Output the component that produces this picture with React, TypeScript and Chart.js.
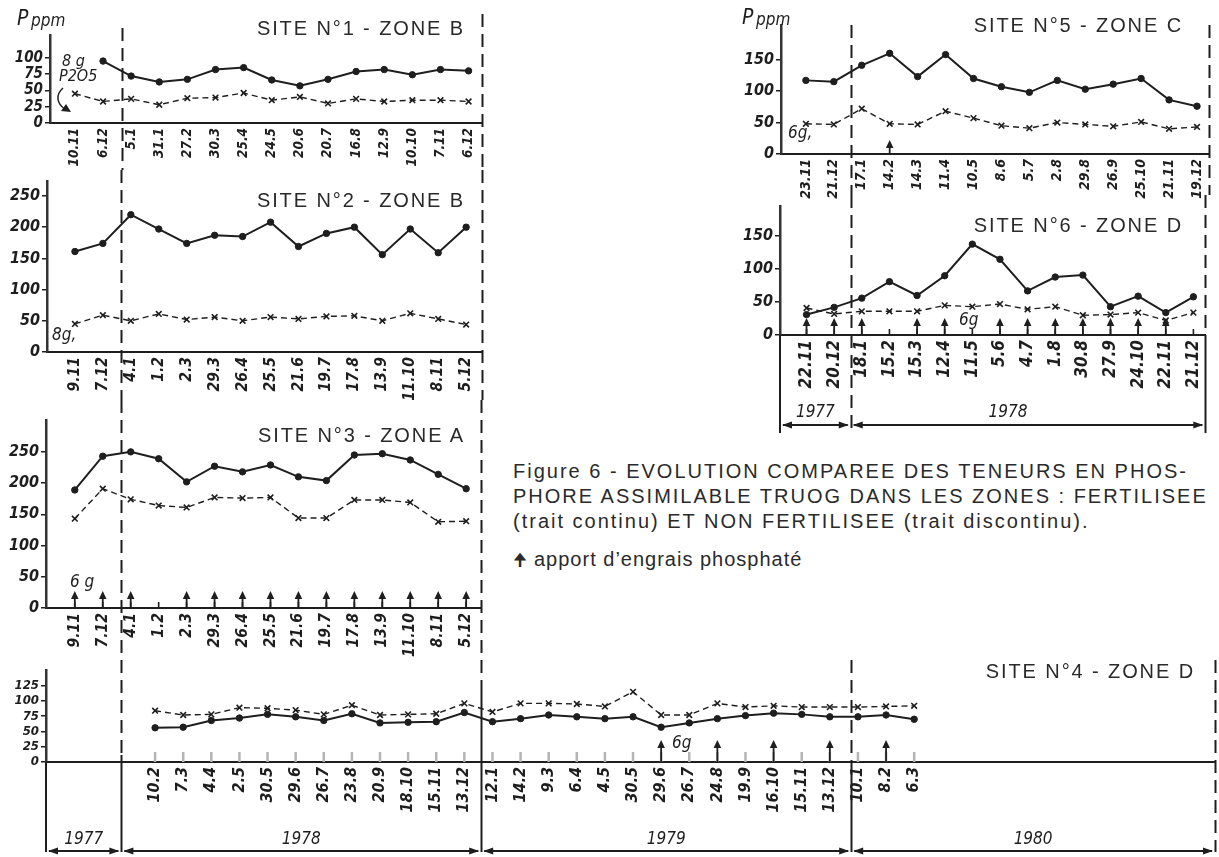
import React, { useEffect, useRef } from "react";
import { Chart, registerables } from "chart.js";

Chart.register(...registerables);

const INK = "#1e1e1e";
const TICK_FAMILY = '"DejaVu Sans Condensed", "DejaVu Sans", sans-serif';
const TEXT_FAMILY = '"Liberation Sans Narrow", "Liberation Sans", Arial, sans-serif';

// ---------------- DATA ----------------
// Site 1 - Zone B
const site1Labels = ["10.11", "6.12", "5.1", "31.1", "27.2", "30.3", "25.4", "24.5", "20.6", "20.7", "16.8", "12.9", "10.10", "7.11", "6.12"];
const site1Fert = [null, 95, 72, 63, 67, 82, 85, 66, 57, 67, 79, 82, 74, 82, 80];
const site1NonFert = [45, 33, 37, 28, 38, 39, 46, 35, 40, 30, 37, 33, 35, 35, 33];
const site1YTicks = [0, 25, 50, 75, 100];

// Site 2 - Zone B
const site2Labels = ["9.11", "7.12", "4.1", "1.2", "2.3", "29.3", "26.4", "25.5", "21.6", "19.7", "17.8", "13.9", "11.10", "8.11", "5.12"];
const site2Fert = [161, 174, 220, 197, 174, 187, 185, 208, 169, 190, 200, 156, 197, 159, 200];
const site2NonFert = [45, 59, 50, 61, 52, 56, 50, 56, 53, 57, 58, 50, 62, 53, 44];
const site2YTicks = [0, 50, 100, 150, 200, 250];

// Site 3 - Zone A
const site3Labels = ["9.11", "7.12", "4.1", "1.2", "2.3", "29.3", "26.4", "25.5", "21.6", "19.7", "17.8", "13.9", "11.10", "8.11", "5.12"];
const site3Fert = [189, 243, 250, 239, 202, 227, 218, 229, 210, 204, 245, 247, 237, 214, 191];
const site3NonFert = [143, 191, 174, 164, 161, 177, 176, 177, 144, 144, 173, 173, 169, 138, 139];
const site3YTicks = [0, 50, 100, 150, 200, 250];
const site3Arrows = [0, 1, 2, 4, 5, 6, 7, 8, 9, 10, 11, 12, 13, 14];

// Site 4 - Zone D
const site4Labels = ["10.2", "7.3", "4.4", "2.5", "30.5", "29.6", "26.7", "23.8", "20.9", "18.10", "15.11", "13.12", "12.1", "14.2", "9.3", "6.4", "4.5", "30.5", "29.6", "26.7", "24.8", "19.9", "16.10", "15.11", "13.12", "10.1", "8.2", "6.3"];
const site4Fert = [56, 57, 68, 72, 78, 74, 68, 79, 64, 65, 66, 81, 66, 71, 77, 74, 71, 74, 57, 64, 71, 76, 80, 78, 74, 74, 77, 70];
const site4NonFert = [84, 77, 78, 89, 88, 85, 78, 93, 77, 78, 79, 96, 82, 96, 96, 95, 91, 115, 77, 77, 96, 90, 92, 90, 90, 90, 91, 92];
const site4YTicks = [0, 25, 50, 75, 100, 125];
const site4Arrows = [18, 20, 22, 24, 26];
const site4Years = ["1977", "1978", "1979", "1980"];

// Site 5 - Zone C
const site5Labels = ["23.11", "21.12", "17.1", "14.2", "14.3", "11.4", "10.5", "8.6", "5.7", "2.8", "29.8", "26.9", "25.10", "21.11", "19.12"];
const site5Fert = [117, 115, 141, 160, 123, 158, 120, 107, 98, 117, 103, 111, 120, 86, 76];
const site5NonFert = [48, 47, 72, 48, 47, 68, 57, 45, 41, 50, 47, 44, 51, 40, 43];
const site5YTicks = [0, 50, 100, 150];
const site5Arrows = [3];

// Site 6 - Zone D
const site6Labels = ["22.11", "20.12", "18.1", "15.2", "15.3", "12.4", "11.5", "5.6", "4.7", "1.8", "30.8", "27.9", "24.10", "22.11", "21.12"];
const site6Fert = [31, 42, 56, 81, 60, 90, 138, 115, 67, 88, 91, 43, 59, 34, 58];
const site6NonFert = [41, 32, 36, 36, 36, 45, 43, 47, 39, 43, 30, 31, 34, 22, 34];
const site6YTicks = [0, 50, 100, 150];
const site6Arrows = [0, 1, 2, 4, 5, 7, 8, 9, 10, 11, 12, 13];
const site6Years = ["1977", "1978"];

// ---------------- TYPES ----------------
type Divider = { v: number; from: number; to: number; solidFrom?: number };
type Note = { text: string; x: number; y: number; size: number };
type Bracket = { y: number; labelY: number; bounds: number[]; years: string[]; shift?: number[] };

type PanelCfg = {
  left: number; top: number; width: number; height: number;
  axisW: number; padTop: number; padRight: number; xLabelH: number;
  xMin: number; xMax: number; yMax: number;
  labels: string[]; fert: (number | null)[]; nonFert: number[]; yTicks: number[];
  yFont: number; xFont: number;
  dividers: Divider[];
  arrows: number[]; arrowLen: number;
  baseTicks: boolean; faintTicks?: boolean;
  notes: Note[];
  bracket?: Bracket;
  axisExt?: number;
  curl?: boolean;
};

function line(ctx: CanvasRenderingContext2D, x1: number, y1: number, x2: number, y2: number) {
  ctx.beginPath();
  ctx.moveTo(x1, y1);
  ctx.lineTo(x2, y2);
  ctx.stroke();
}

function arrowHead(ctx: CanvasRenderingContext2D, x: number, y: number, dir: "up" | "left" | "right") {
  ctx.beginPath();
  if (dir === "up") {
    ctx.moveTo(x, y);
    ctx.lineTo(x - 3.8, y + 8);
    ctx.lineTo(x + 3.8, y + 8);
  } else if (dir === "left") {
    ctx.moveTo(x, y);
    ctx.lineTo(x + 10, y - 3.5);
    ctx.lineTo(x + 10, y + 3.5);
  } else {
    ctx.moveTo(x, y);
    ctx.lineTo(x - 10, y - 3.5);
    ctx.lineTo(x - 10, y + 3.5);
  }
  ctx.closePath();
  ctx.fill();
}

function makeDecor(cfg: PanelCfg) {
  return {
    id: "decor",
    afterDraw(chart: any) {
      const ctx: CanvasRenderingContext2D = chart.ctx;
      const xs = chart.scales.x;
      const ys = chart.scales.y;
      const base = ys.getPixelForValue(0);
      ctx.save();
      ctx.fillStyle = INK;
      ctx.strokeStyle = INK;

      // small ticks on the baseline at each sampling date
      if (cfg.baseTicks) {
        ctx.lineWidth = cfg.faintTicks ? 2.5 : 1.6;
        ctx.strokeStyle = cfg.faintTicks ? "#b4b4b4" : INK;
        cfg.labels.forEach((_, i) => {
          const x = xs.getPixelForValue(i);
          line(ctx, x, base, x, base - (cfg.faintTicks ? 10 : 6));
        });
        ctx.strokeStyle = INK;
      }

      // fertiliser arrows
      ctx.lineWidth = 1.8;
      cfg.arrows.forEach((i) => {
        const x = xs.getPixelForValue(i);
        line(ctx, x, base, x, base - cfg.arrowLen + 5);
        arrowHead(ctx, x, base - cfg.arrowLen, "up");
      });

      // vertical separators (year limits / panel limits)
      ctx.lineWidth = 2;
      cfg.dividers.forEach((d) => {
        const x = Math.round(xs.getPixelForValue(d.v)) + 0.5;
        const dashEnd = d.solidFrom ?? d.to;
        ctx.setLineDash([13, 7]);
        line(ctx, x, d.from, x, dashEnd);
        if (d.solidFrom !== undefined) {
          ctx.setLineDash([]);
          line(ctx, x, d.solidFrom, x, d.to);
        }
      });
      ctx.setLineDash([]);

      if (cfg.axisExt !== undefined) {
        const x = chart.chartArea.left;
        line(ctx, x, base, x, cfg.axisExt);
      }

      // year brackets
      if (cfg.bracket) {
        const b = cfg.bracket;
        ctx.lineWidth = 2;
        ctx.font = `italic 17px ${TICK_FAMILY}`;
        ctx.textAlign = "center";
        ctx.textBaseline = "alphabetic";
        for (let k = 0; k < b.years.length; k++) {
          const x1 = xs.getPixelForValue(b.bounds[k]);
          const x2 = xs.getPixelForValue(b.bounds[k + 1]);
          line(ctx, x1 + 3, b.y, x2 - 3, b.y);
          arrowHead(ctx, x1 + 2, b.y, "left");
          arrowHead(ctx, x2 - 2, b.y, "right");
          const sh = b.shift ? b.shift[k] : 0;
          ctx.fillText(b.years[k], (x1 + x2) / 2 + sh, b.labelY);
        }
      }

      // curled arrow (site 1)
      if (cfg.curl) {
        ctx.lineWidth = 1.5;
        ctx.beginPath();
        ctx.moveTo(63, 88);
        ctx.bezierCurveTo(55, 95, 57, 104, 65, 109);
        ctx.stroke();
        ctx.beginPath();
        ctx.moveTo(71, 112);
        ctx.lineTo(61, 111);
        ctx.lineTo(66, 104);
        ctx.closePath();
        ctx.fill();
      }

      // handwritten notes
      ctx.textAlign = "left";
      ctx.textBaseline = "alphabetic";
      cfg.notes.forEach((n) => {
        ctx.font = `italic ${n.size}px ${TICK_FAMILY}`;
        ctx.fillText(n.text, n.x, n.y);
      });
      ctx.restore();
    },
  };
}

function Panel({ cfg }: { cfg: PanelCfg }) {
  const ref = useRef<HTMLCanvasElement>(null);
  useEffect(() => {
    const canvas = ref.current;
    if (!canvas) return;
    const chart = new Chart(canvas, {
      type: "line",
      data: {
        datasets: [
          {
            label: "zone fertilisée",
            data: cfg.fert.map((v, i) => ({ x: i, y: v })) as any,
            borderColor: INK,
            backgroundColor: INK,
            borderWidth: 2,
            pointRadius: 3.2,
            pointStyle: "circle",
            pointBackgroundColor: INK,
            pointBorderColor: INK,
            pointBorderWidth: 1,
            tension: 0,
          },
          {
            label: "zone non fertilisée",
            data: cfg.nonFert.map((v, i) => ({ x: i, y: v })) as any,
            borderColor: INK,
            backgroundColor: INK,
            borderWidth: 1.4,
            borderDash: [6, 4],
            pointStyle: "crossRot",
            pointRadius: 4,
            pointBorderWidth: 1.6,
            pointBorderColor: INK,
            tension: 0,
          },
        ],
      },
      options: {
        responsive: false,
        maintainAspectRatio: false,
        animation: false,
        devicePixelRatio: 1,
        events: [],
        layout: {
          autoPadding: false,
          padding: { top: cfg.padTop, right: cfg.padRight, left: 0, bottom: 0 },
        },
        plugins: { legend: { display: false }, tooltip: { enabled: false } },
        scales: {
          x: {
            type: "linear",
            min: cfg.xMin,
            max: cfg.xMax,
            afterBuildTicks: (s: any) => {
              s.ticks = cfg.labels.map((_, i) => ({ value: i }));
            },
            afterFit: (s: any) => {
              s.height = cfg.xLabelH;
            },
            ticks: {
              autoSkip: false,
              minRotation: 90,
              maxRotation: 90,
              padding: 5,
              color: INK,
              font: { family: TICK_FAMILY, size: cfg.xFont, style: "italic", weight: "bold" },
              callback: (v: any) => cfg.labels[v as number] ?? "",
            },
            grid: { display: false, drawTicks: false },
            border: { display: true, color: INK, width: 2 },
          },
          y: {
            type: "linear",
            min: 0,
            max: cfg.yMax,
            afterBuildTicks: (s: any) => {
              s.ticks = cfg.yTicks.map((v) => ({ value: v }));
            },
            afterFit: (s: any) => {
              s.width = cfg.axisW;
            },
            ticks: {
              autoSkip: false,
              padding: 2,
              color: INK,
              font: { family: TICK_FAMILY, size: cfg.yFont, style: "italic", weight: "bold" },
            },
            grid: { display: true, drawOnChartArea: false, drawTicks: true, tickLength: 5, color: INK, lineWidth: 1.5 },
            border: { display: true, color: "#333", width: 2.5 },
          },
        },
      },
      plugins: [makeDecor(cfg)],
    });
    return () => chart.destroy();
  }, [cfg]);
  return (
    <canvas
      ref={ref}
      width={cfg.width}
      height={cfg.height}
      style={{ position: "absolute", left: cfg.left, top: cfg.top, width: cfg.width, height: cfg.height }}
    />
  );
}

// ---------------- PANELS ----------------
const panel1: PanelCfg = {
  left: 0, top: 0, width: 490, height: 170,
  axisW: 50, padTop: 35, padRight: 7, xLabelH: 47,
  xMin: -0.886, xMax: 14.46, yMax: 135,
  labels: site1Labels, fert: site1Fert, nonFert: site1NonFert, yTicks: site1YTicks,
  yFont: 15, xFont: 13.5,
  dividers: [
    { v: 1.67, from: 28, to: 170 },
    { v: 14.46, from: 14, to: 170 },
  ],
  arrows: [], arrowLen: 16, baseTicks: false,
  notes: [
    { text: "P", x: 17, y: 25, size: 21 },
    { text: "ppm", x: 31, y: 26, size: 17 },
    { text: "8 g", x: 62, y: 66, size: 16 },
    { text: "P2O5", x: 59, y: 81, size: 16 },
  ],
  curl: true,
};

const panel2: PanelCfg = {
  left: 0, top: 170, width: 490, height: 230,
  axisW: 47, padTop: 5, padRight: 7, xLabelH: 48,
  xMin: -1, xMax: 14.57, yMax: 273,
  labels: site2Labels, fert: site2Fert, nonFert: site2NonFert, yTicks: site2YTicks,
  yFont: 16, xFont: 15.5,
  dividers: [
    { v: 1.64, from: 0, to: 230 },
    { v: 14.57, from: 0, to: 230 },
  ],
  arrows: [], arrowLen: 16, baseTicks: false,
  notes: [{ text: "8g,", x: 52, y: 170, size: 17 }],
};

const panel3: PanelCfg = {
  left: 0, top: 400, width: 490, height: 260,
  axisW: 46, padTop: 20, padRight: 7, xLabelH: 52,
  xMin: -1.03, xMax: 14.53, yMax: 301,
  labels: site3Labels, fert: site3Fert, nonFert: site3NonFert, yTicks: site3YTicks,
  yFont: 16, xFont: 15.5,
  dividers: [
    { v: 1.64, from: 0, to: 260 },
    { v: 14.53, from: 0, to: 260 },
  ],
  arrows: site3Arrows, arrowLen: 17, baseTicks: true,
  notes: [{ text: "6 g", x: 70, y: 187, size: 17 }],
};

const panel4: PanelCfg = {
  left: 0, top: 660, width: 1219, height: 197,
  axisW: 46, padTop: 3, padRight: 4, xLabelH: 95,
  xMin: -3.88, xMax: 37.7, yMax: 151,
  labels: site4Labels, fert: site4Fert, nonFert: site4NonFert, yTicks: site4YTicks,
  yFont: 13, xFont: 16,
  dividers: [
    { v: -1.2, from: 0, to: 192, solidFrom: 95 },
    { v: 11.6, from: 0, to: 192, solidFrom: 20 },
    { v: 24.76, from: 0, to: 192, solidFrom: 100 },
    { v: 37.7, from: 0, to: 192 },
  ],
  arrows: site4Arrows, arrowLen: 22, baseTicks: true, faintTicks: true,
  notes: [{ text: "6g", x: 672, y: 88, size: 17 }],
  bracket: { y: 191, labelY: 184, bounds: [-3.88, -1.2, 11.6, 24.76, 37.7], years: site4Years },
  axisExt: 192,
};

const panel5: PanelCfg = {
  left: 730, top: 0, width: 489, height: 205,
  axisW: 51, padTop: 25, padRight: 7, xLabelH: 51,
  xMin: -0.89, xMax: 14.43, yMax: 205,
  labels: site5Labels, fert: site5Fert, nonFert: site5NonFert, yTicks: site5YTicks,
  yFont: 16, xFont: 14,
  dividers: [
    { v: 1.63, from: 25, to: 195 },
    { v: 14.43, from: 25, to: 195 },
  ],
  arrows: site5Arrows, arrowLen: 14, baseTicks: false,
  notes: [
    { text: "P", x: 12, y: 24, size: 21 },
    { text: "ppm", x: 26, y: 25, size: 17 },
    { text: "6g,", x: 58, y: 138, size: 17 },
  ],
};

const panel6: PanelCfg = {
  left: 730, top: 195, width: 489, height: 245,
  axisW: 50, padTop: 10, padRight: 7, xLabelH: 105,
  xMin: -0.96, xMax: 14.43, yMax: 195,
  labels: site6Labels, fert: site6Fert, nonFert: site6NonFert, yTicks: site6YTicks,
  yFont: 16, xFont: 17,
  dividers: [
    { v: 1.6, from: 0, to: 238 },
    { v: 14.43, from: 0, to: 238, solidFrom: 140 },
  ],
  arrows: site6Arrows, arrowLen: 17, baseTicks: true,
  notes: [{ text: "6g", x: 229, y: 130, size: 17 }],
  bracket: { y: 230, labelY: 222, bounds: [-0.96, 1.6, 14.43], years: site6Years, shift: [0, -20] },
  axisExt: 238,
};

const titleStyle = (right: number, top: number): React.CSSProperties => ({
  position: "absolute",
  right: 1219 - right,
  top,
  font: `20px ${TEXT_FAMILY}`,
  letterSpacing: "1.9px",
  color: "#2a2a2a",
  whiteSpace: "nowrap",
  lineHeight: "20px",
});

export default function App() {
  return (
    <div
      style={{
        position: "fixed",
        left: 0,
        top: 0,
        width: 1219,
        height: 857,
        background: "#ffffff",
        overflow: "hidden",
      }}
    >
      <Panel cfg={panel1} />
      <Panel cfg={panel2} />
      <Panel cfg={panel3} />
      <Panel cfg={panel4} />
      <Panel cfg={panel6} />
      <Panel cfg={panel5} />

      <div style={titleStyle(465, 18)}>SITE N°1 - ZONE B</div>
      <div style={titleStyle(465, 190)}>SITE N°2 - ZONE B</div>
      <div style={titleStyle(465, 425)}>SITE N°3 - ZONE A</div>
      <div style={titleStyle(1195, 661)}>SITE N°4 - ZONE D</div>
      <div style={titleStyle(1183, 15)}>SITE N°5 - ZONE C</div>
      <div style={titleStyle(1183, 215)}>SITE N°6 - ZONE D</div>

      <div
        style={{
          position: "absolute",
          left: 513,
          top: 459,
          width: 720,
          font: `20px ${TEXT_FAMILY}`,
          letterSpacing: "2px",
          lineHeight: "25px",
          color: "#2a2a2a",
          whiteSpace: "nowrap",
        }}
      >
        <div>Figure 6 - EVOLUTION COMPAREE DES TENEURS EN PHOS-</div>
        <div>PHORE ASSIMILABLE TRUOG DANS LES ZONES : FERTILISEE</div>
        <div>(trait continu) ET NON FERTILISEE (trait discontinu).</div>
        <div style={{ marginTop: 13, letterSpacing: "1px" }}>
          <span style={{ fontSize: 17, marginRight: 6 }}>🠉</span>apport d’engrais phosphaté
        </div>
      </div>
    </div>
  );
}
